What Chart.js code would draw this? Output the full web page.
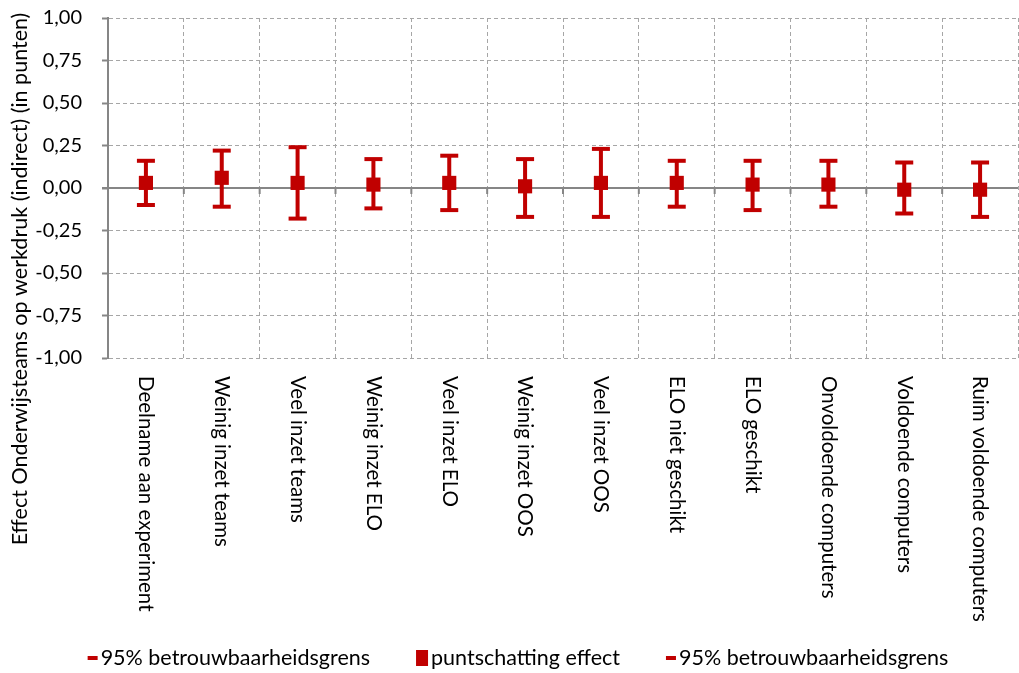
<!DOCTYPE html>
<html>
<head>
<meta charset="utf-8">
<script src="https://cdn.jsdelivr.net/npm/chart.js@4.4.1/dist/chart.umd.min.js"></script>
<style>
html, body { margin: 0; padding: 0; background: #fff; }
#wrap { width: 1019px; height: 673px; }
</style>
</head>
<body>
<div id="wrap"><canvas id="grafiek"></canvas></div>
<script>
//--Data----------------------------
var categorieen = ['Deelname aan experiment', 'Weinig inzet teams', 'Veel inzet teams', 'Weinig inzet ELO',
    'Veel inzet ELO', 'Weinig inzet OOS', 'Veel inzet OOS', 'ELO niet geschikt', 'ELO geschikt',
    'Onvoldoende computers', 'Voldoende computers', 'Ruim voldoende computers'];
var ondergrens = [-0.10, -0.11, -0.18, -0.12, -0.13, -0.17, -0.17, -0.11, -0.13, -0.11, -0.15, -0.17];
var schatting  = [0.03, 0.06, 0.03, 0.02, 0.03, 0.01, 0.03, 0.03, 0.02, 0.02, -0.01, -0.01];
var bovengrens = [0.16, 0.22, 0.24, 0.17, 0.19, 0.17, 0.23, 0.16, 0.16, 0.16, 0.15, 0.15];
var yTitel = 'Effect Onderwijsteams op werkdruk (indirect) (in punten)';

var rood = '#c00000';
var grijs = '#868686';
var lettertype = 'Lato, "Liberation Sans", sans-serif';

Chart.defaults.font.family = lettertype;
Chart.defaults.font.size = 20;
Chart.defaults.color = '#000';

//--Plugins----------------------------
var foutBalken = {
    id: 'foutBalken',
    beforeDatasetsDraw: function (chart) {
        var ctx = chart.ctx, x = chart.scales.x, y = chart.scales.y;
        var nul = y.getPixelForValue(0);
        ctx.save();
        // nullijn met streepjes
        ctx.strokeStyle = grijs;
        ctx.lineWidth = 2;
        ctx.beginPath();
        ctx.moveTo(x.left - 6, nul);
        ctx.lineTo(x.right, nul);
        var stap = (x.right - x.left) / categorieen.length;
        for (var k = 1; k < categorieen.length; k++) {
            var xb = x.left + k * stap;
            ctx.moveTo(xb, nul);
            ctx.lineTo(xb, nul + 6);
        }
        ctx.stroke();
        // verticale lijnen van de intervallen
        ctx.strokeStyle = rood;
        ctx.lineWidth = 4;
        ctx.beginPath();
        for (var i = 0; i < categorieen.length; i++) {
            var xp = x.getPixelForValue(i);
            ctx.moveTo(xp, y.getPixelForValue(ondergrens[i]));
            ctx.lineTo(xp, y.getPixelForValue(bovengrens[i]));
        }
        ctx.stroke();
        ctx.restore();
    },
    afterDraw: function (chart) {
        var ctx = chart.ctx, x = chart.scales.x, y = chart.scales.y;
        ctx.save();
        ctx.fillStyle = '#000';
        ctx.font = '20.5px ' + lettertype;
        ctx.textAlign = 'left';
        ctx.textBaseline = 'middle';
        for (var i = 0; i < categorieen.length; i++) {
            ctx.save();
            ctx.translate(x.getPixelForValue(i), y.bottom + 18);
            ctx.rotate(Math.PI / 2);
            ctx.fillText(categorieen[i], 0, 0);
            ctx.restore();
        }

        // legenda
        ctx.font = '21.5px ' + lettertype;
        var items = chart.data.datasets.map(function (ds, i) {
            return { tekst: ds.label, blok: i === 1, b: ctx.measureText(ds.label).width };
        });
        var totaal = 0;
        items.forEach(function (it, i) {
            totaal += (it.blok ? 12 : 10) + 3 + it.b + (i < items.length - 1 ? 46 : 0);
        });
        var lx = (chart.width + 17) / 2 - totaal / 2, ly = 658;
        items.forEach(function (it) {
            ctx.fillStyle = rood;
            if (it.blok) { ctx.fillRect(lx, ly - 8, 12, 16); lx += 12; }
            else { ctx.fillRect(lx, ly - 2, 10, 4); lx += 10; }
            lx += 3;
            ctx.fillStyle = '#000';
            ctx.fillText(it.tekst, lx, ly);
            lx += it.b + 46;
        });

        // as-titel
        ctx.font = '21.5px ' + lettertype;
        ctx.translate(20, 279);
        ctx.rotate(-Math.PI / 2);
        ctx.textAlign = 'center';
        ctx.fillText(yTitel, 0, 0);
        ctx.restore();
    }
};

var ctx = document.getElementById('grafiek').getContext('2d');
var grafiek = new Chart(ctx, {
    type: 'line',
    data: {
        labels: categorieen,
        datasets: [{
            label: '95% betrouwbaarheidsgrens',
            data: ondergrens,
            showLine: false,
            pointStyle: 'line',
            pointRadius: 9,
            pointBorderWidth: 4,
            borderColor: rood,
            backgroundColor: rood
        }, {
            label: 'puntschatting effect',
            data: schatting,
            showLine: false,
            pointStyle: 'rect',
            pointRadius: 10,
            pointBorderWidth: 0,
            borderColor: rood,
            backgroundColor: rood
        }, {
            label: '95% betrouwbaarheidsgrens',
            data: bovengrens,
            showLine: false,
            pointStyle: 'line',
            pointRadius: 9,
            pointBorderWidth: 4,
            borderColor: rood,
            backgroundColor: rood
        }]
    },
    options: {
        responsive: true,
        maintainAspectRatio: false,
        animation: false,
        events: [],
        layout: { autoPadding: false, padding: { top: 18, right: 1, left: 0, bottom: 0 } },
        scales: {
            x: {
                offset: true,
                grid: { offset: true, color: '#a6a6a6', lineWidth: 1, drawTicks: false },
                border: { display: false, dash: [4, 3] },
                ticks: { display: false },
                afterFit: function (scale) {
                    scale.height = scale.chart.height - 358;
                }
            },
            y: {
                min: -1,
                max: 1,
                grid: { color: '#a6a6a6', lineWidth: 1, tickColor: grijs, tickWidth: 2, tickLength: 6 },
                border: { display: true, color: grijs, width: 2, dash: [4, 3] },
                ticks: {
                    stepSize: 0.25,
                    padding: 20,
                    callback: function (v) { return v.toFixed(2).replace('.', ','); }
                },
                afterFit: function (scale) {
                    scale.width = 108;
                    scale.paddingTop = 10;
                    scale.paddingBottom = 10;
                }
            }
        },
        plugins: {
            tooltip: { enabled: false },
            legend: { display: false }
        }
    },
    plugins: [foutBalken]
});
</script>
</body>
</html>
